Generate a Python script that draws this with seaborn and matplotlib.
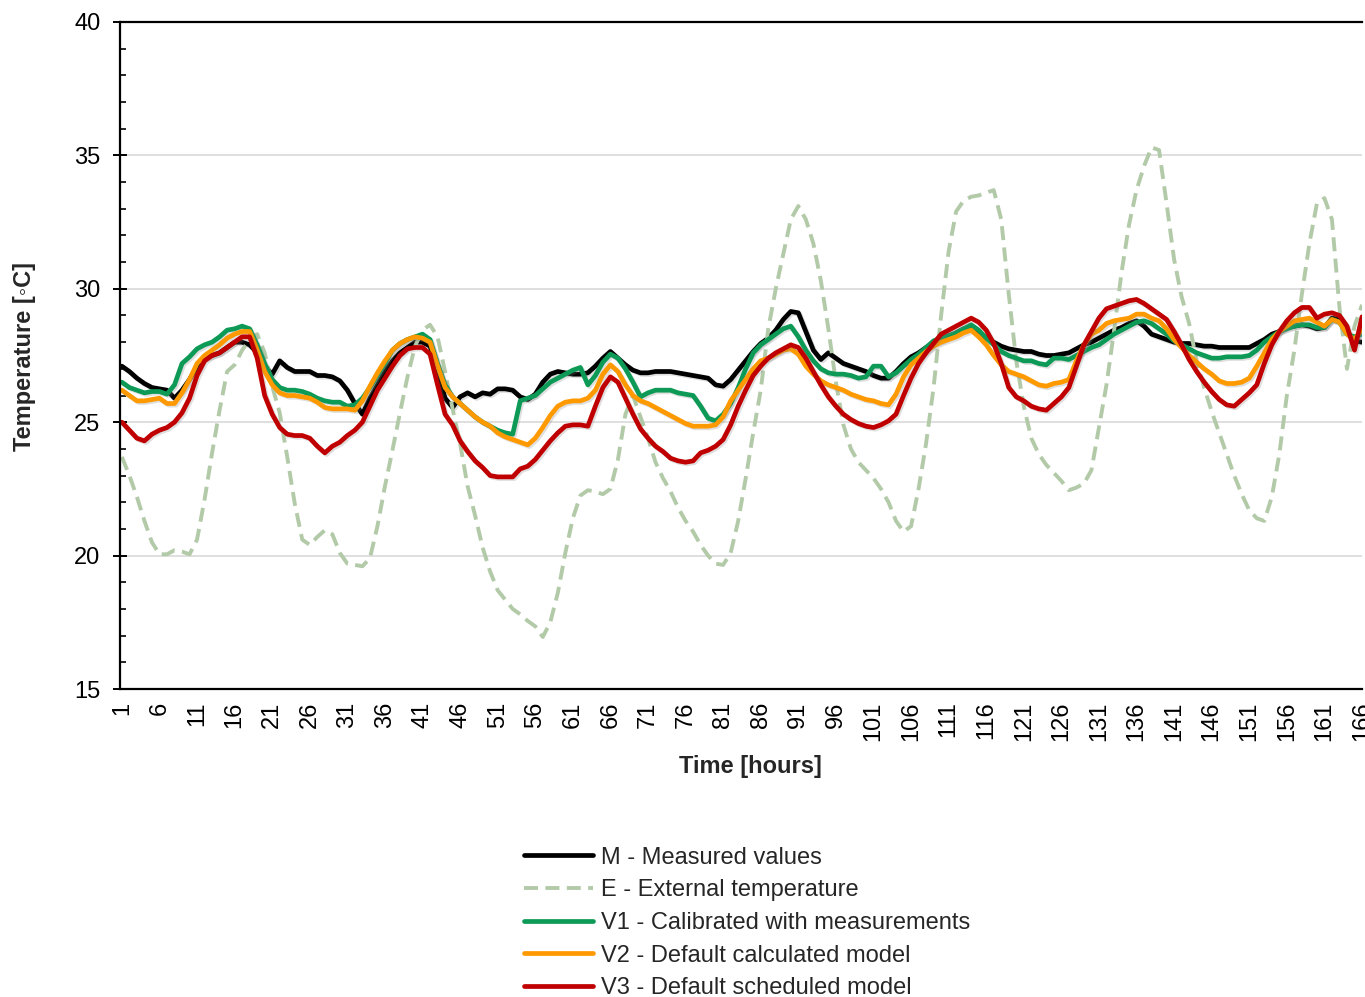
import numpy as np
import pandas as pd
import matplotlib
matplotlib.use("Agg")
import matplotlib.pyplot as plt
import matplotlib.patheffects as pe
from matplotlib.ticker import MultipleLocator
import seaborn as sns

hours = list(range(1, 167))

measured = [
    27.1, 26.9, 26.65, 26.45, 26.3, 26.25, 26.2, 25.9, 26.2, 26.6,
    27.1, 27.4, 27.5, 27.6, 27.8, 28.0, 28.0, 27.9, 27.6, 27.1,
    26.8, 27.3, 27.05, 26.9, 26.9, 26.9, 26.75, 26.75, 26.7, 26.55,
    26.2, 25.7, 25.3, 25.9, 26.4, 26.9, 27.3, 27.6, 27.8, 28.0,
    28.0, 27.85, 26.9, 25.9, 25.55, 25.95, 26.1, 25.95, 26.1, 26.05,
    26.25, 26.25, 26.2, 25.95, 25.85, 26.05, 26.5, 26.8, 26.9, 26.85,
    26.8, 26.8, 26.85, 27.1, 27.4, 27.65, 27.4, 27.15, 26.95, 26.85,
    26.85, 26.9, 26.9, 26.9, 26.85, 26.8, 26.75, 26.7, 26.65, 26.4,
    26.35, 26.6, 26.95, 27.3, 27.65, 27.95, 28.15, 28.45, 28.85, 29.15,
    29.1, 28.4, 27.7, 27.35, 27.6, 27.4, 27.2, 27.1, 27.0, 26.9,
    26.75, 26.65, 26.65, 26.9, 27.2, 27.45, 27.6, 27.8, 27.95, 28.05,
    28.2, 28.35, 28.5, 28.6, 28.35, 28.15, 28.0, 27.85, 27.75, 27.7,
    27.65, 27.65, 27.55, 27.5, 27.5, 27.55, 27.6, 27.75, 27.9, 28.0,
    28.15, 28.3, 28.45, 28.55, 28.7, 28.8, 28.6, 28.3, 28.2, 28.1,
    28.0, 27.95, 27.95, 27.9, 27.85, 27.85, 27.8, 27.8, 27.8, 27.8,
    27.8, 27.95, 28.1, 28.3, 28.4, 28.55, 28.6, 28.65, 28.6, 28.5,
    28.55, 28.9, 28.85, 28.4, 28.05, 28.0,
]

external = [
    23.7, 23.0, 22.2, 21.3, 20.5, 20.05, 20.05, 20.2, 20.15, 20.05,
    20.6, 22.1, 23.85, 25.45, 26.9, 27.15, 27.7, 28.1, 28.3, 27.6,
    26.35, 25.35, 23.7, 21.95, 20.6, 20.4, 20.7, 20.95, 20.8, 20.1,
    19.7, 19.65, 19.6, 19.9, 21.1, 22.6, 23.95, 25.35, 26.7, 27.85,
    28.45, 28.65, 28.2, 26.9, 25.5, 24.2, 22.6, 21.5, 20.3, 19.4,
    18.7, 18.35, 18.0, 17.8, 17.55, 17.35, 16.95, 17.5, 18.6, 20.1,
    21.4, 22.25, 22.45, 22.4, 22.3, 22.5, 23.6, 25.3, 26.0, 25.2,
    24.4, 23.5, 22.9, 22.4, 21.8, 21.3, 20.9, 20.4, 20.0, 19.7,
    19.65, 20.1, 21.3, 22.9, 24.6, 26.2, 28.5, 30.0, 31.3, 32.6,
    33.1, 32.6, 31.7, 30.3, 28.5, 26.5, 24.9, 24.0, 23.5, 23.2,
    22.9, 22.5, 22.0, 21.3, 20.9, 21.1, 22.5, 24.2, 26.3, 29.0,
    31.4, 32.9, 33.3, 33.45, 33.5, 33.6, 33.7, 32.6, 29.8, 27.3,
    25.6, 24.4, 23.8, 23.4, 23.1, 22.8, 22.45, 22.55, 22.7, 23.2,
    24.8, 26.4, 28.4, 30.6, 32.4, 33.7, 34.6, 35.3, 35.2, 33.2,
    31.1, 29.7, 28.7, 27.3, 26.3, 25.4, 24.6, 23.8, 23.0, 22.3,
    21.7, 21.4, 21.3, 22.2, 23.8, 26.0, 27.7, 29.8, 31.7, 33.2,
    33.4, 32.6, 29.3, 27.0, 28.6, 29.4,
]

v1_calibrated = [
    26.5, 26.3, 26.2, 26.1, 26.15, 26.15, 26.05, 26.4, 27.2, 27.45,
    27.75, 27.9, 28.0, 28.2, 28.45, 28.5, 28.6, 28.5, 27.9, 27.2,
    26.6, 26.3, 26.2, 26.2, 26.15, 26.05, 25.9, 25.8, 25.75, 25.75,
    25.6, 25.65, 25.9, 26.3, 26.75, 27.2, 27.7, 27.95, 28.1, 28.2,
    28.3, 28.1, 27.2, 26.4, 25.95, 25.7, 25.45, 25.2, 25.0, 24.85,
    24.7, 24.6, 24.55, 25.8, 25.9, 26.0, 26.25, 26.5, 26.65, 26.8,
    26.95, 27.05, 26.4, 26.75, 27.25, 27.55, 27.4, 27.0, 26.5, 25.95,
    26.1, 26.2, 26.2, 26.2, 26.1, 26.05, 26.0, 25.6, 25.15, 25.05,
    25.3, 25.7, 26.3, 27.0, 27.6, 27.9, 28.1, 28.3, 28.5, 28.6,
    28.2, 27.7, 27.3, 27.0, 26.85, 26.8, 26.8, 26.75, 26.65, 26.7,
    27.1, 27.1, 26.7, 26.85, 27.1, 27.35, 27.55, 27.8, 28.05, 28.15,
    28.25, 28.35, 28.5, 28.65, 28.45, 28.15, 27.9, 27.65, 27.5, 27.4,
    27.3, 27.3, 27.2, 27.15, 27.4, 27.4, 27.35, 27.5, 27.65, 27.8,
    27.9, 28.1, 28.3, 28.45, 28.6, 28.75, 28.8, 28.7, 28.5, 28.3,
    28.05, 27.9, 27.75, 27.6, 27.5, 27.4, 27.4, 27.45, 27.45, 27.45,
    27.5, 27.7, 28.0, 28.2, 28.4, 28.5, 28.6, 28.65, 28.65, 28.55,
    28.55, 28.85, 28.75, 28.3, 28.2, 28.3,
]

v2_calculated = [
    26.2, 26.0, 25.8, 25.8, 25.85, 25.9, 25.7, 25.7, 26.1, 26.6,
    27.2, 27.5, 27.7, 27.9, 28.15, 28.3, 28.4, 28.4, 27.7, 26.9,
    26.4, 26.1, 26.0, 26.0, 25.95, 25.9, 25.75, 25.55, 25.5, 25.5,
    25.5, 25.45, 25.8, 26.35, 26.85, 27.3, 27.7, 27.95, 28.1, 28.2,
    28.15, 28.0, 27.1, 26.3, 25.95, 25.7, 25.45, 25.2, 25.0, 24.85,
    24.6, 24.45, 24.35, 24.25, 24.15, 24.4, 24.8, 25.25, 25.6, 25.75,
    25.8, 25.8, 25.9, 26.2, 26.8, 27.15, 26.9, 26.4, 26.0, 25.8,
    25.7, 25.55, 25.4, 25.25, 25.1, 24.95, 24.85, 24.85, 24.85, 24.9,
    25.2, 25.8, 26.2, 26.6, 27.0, 27.3, 27.4, 27.55, 27.7, 27.75,
    27.55, 27.1, 26.8, 26.55, 26.4, 26.3, 26.2, 26.05, 25.95, 25.85,
    25.8, 25.7, 25.65, 26.05, 26.7, 27.15, 27.4, 27.65, 27.85, 28.0,
    28.1, 28.2, 28.35, 28.45, 28.2, 27.9, 27.5, 27.15, 26.9, 26.8,
    26.7, 26.55, 26.4, 26.35, 26.45, 26.5, 26.6, 27.3, 27.9, 28.3,
    28.45, 28.7, 28.8, 28.85, 28.9, 29.05, 29.05, 28.9, 28.8, 28.5,
    28.1, 27.8, 27.5, 27.25, 27.0, 26.8, 26.55, 26.45, 26.45, 26.5,
    26.65, 27.1, 27.6, 28.1, 28.4, 28.6, 28.8, 28.85, 28.9, 28.75,
    28.6, 28.85, 28.75, 28.3, 28.1, 28.5,
]

v3_scheduled = [
    25.0, 24.7, 24.4, 24.3, 24.55, 24.7, 24.8, 25.0, 25.35, 25.9,
    26.75, 27.3, 27.5, 27.6, 27.8, 28.0, 28.2, 28.2, 27.4, 26.0,
    25.3, 24.8, 24.55, 24.5, 24.5, 24.4, 24.1, 23.85, 24.1, 24.25,
    24.5, 24.7, 25.0, 25.6, 26.2, 26.65, 27.1, 27.5, 27.75, 27.8,
    27.8, 27.55, 26.4, 25.3, 24.9, 24.3, 23.9, 23.55, 23.3, 23.0,
    22.95, 22.95, 22.95, 23.25, 23.35, 23.6, 23.95, 24.3, 24.6, 24.85,
    24.9, 24.9, 24.85, 25.6, 26.3, 26.7, 26.5, 25.9, 25.3, 24.75,
    24.4, 24.1, 23.9, 23.65, 23.55, 23.5, 23.55, 23.85, 23.95, 24.1,
    24.35, 24.9, 25.6, 26.2, 26.75, 27.1, 27.4, 27.6, 27.75, 27.9,
    27.8, 27.4, 26.9, 26.4, 25.95, 25.6, 25.3, 25.1, 24.95, 24.85,
    24.8, 24.9, 25.05, 25.3, 26.0, 26.65, 27.2, 27.6, 27.95, 28.3,
    28.45, 28.6, 28.75, 28.9, 28.75, 28.45, 27.95, 27.2, 26.3, 25.95,
    25.8, 25.6, 25.5, 25.45, 25.7, 25.95, 26.3, 27.1, 27.9, 28.4,
    28.9, 29.25, 29.35, 29.45, 29.55, 29.6, 29.45, 29.25, 29.05, 28.85,
    28.4, 27.9, 27.35, 26.9, 26.5, 26.15, 25.85, 25.65, 25.6, 25.85,
    26.1, 26.4, 27.2, 27.9, 28.4, 28.8, 29.1, 29.3, 29.3, 28.9,
    29.05, 29.1, 29.0, 28.6, 27.7, 28.95,
]

series_labels = [
    "M - Measured values",
    "E - External temperature",
    "V1 - Calibrated with measurements",
    "V2 - Default calculated model",
    "V3 - Default scheduled model",
]
y_ticks = [15, 20, 25, 30, 35, 40]
x_ticks = list(range(1, 167, 5))

sns.set_theme(style="white")
plt.rcParams["font.family"] = ["Liberation Sans", "DejaVu Sans"]

fig = plt.figure(figsize=(13.65, 9.97), dpi=100)
W, H = 1365, 997
ax = fig.add_axes([120 / W, 1 - 689 / H, (1362 - 120) / W, (689 - 22) / H])

colors = ["#000000", "#b3caa9", "#0c9a56", "#ff9900", "#c00000"]
data_list = [measured, external, v1_calibrated, v2_calculated, v3_scheduled]

shadow = [pe.SimpleLineShadow(offset=(1.2, -1.2), shadow_color="#808080", alpha=0.25), pe.Normal()]

for vals, lab, col in zip(data_list, series_labels, colors):
    df = pd.DataFrame({"hour": hours, "temp": vals})
    if lab.startswith("E"):
        sns.lineplot(data=df, x="hour", y="temp", ax=ax, color=col, lw=2.8,
                     label=lab, dashes=False, linestyle=(0, (3.6, 1.9)))
    else:
        sns.lineplot(data=df, x="hour", y="temp", ax=ax, color=col, lw=3.4,
                     label=lab, solid_joinstyle="round", solid_capstyle="round",
                     path_effects=shadow)

ax.set_xlim(0.75, 166)
ax.set_ylim(15, 40)
ax.set_yticks(y_ticks)
ax.yaxis.set_minor_locator(MultipleLocator(1))
ax.set_xticks(x_ticks)
ax.set_xticklabels([str(t) for t in x_ticks], rotation=90)

ax.grid(False)
ax.yaxis.grid(True, which="major", color="#d9d9d9", lw=1.2)
ax.set_axisbelow(True)

for s in ["left", "bottom", "top"]:
    ax.spines[s].set_visible(True)
    ax.spines[s].set_color("black")
    ax.spines[s].set_linewidth(1.6)
ax.spines["right"].set_visible(False)

ax.tick_params(axis="y", which="major", direction="inout", length=10, width=1.4,
               labelsize=17, pad=9, colors="black", left=True)
ax.tick_params(axis="y", which="minor", direction="in", length=4.5, width=1.2,
               left=True, colors="black")
ax.tick_params(axis="x", which="both", length=0, labelsize=17, pad=9, colors="black")

ax.set_xlabel("Time [hours]", fontsize=17, fontweight="bold")
ax.xaxis.set_label_coords((750 - 120) / 1242, -(766 - 689) / 667)
ax.xaxis.label.set_va("center")
ax.set_ylabel("Temperature [\u25e6C]", fontsize=17, fontweight="bold")
ax.yaxis.set_label_coords((25 - 120) / 1242, 1 - (356 - 22) / 667)
ax.yaxis.label.set_va("center")

ax.get_legend().remove()
handles, labels = ax.get_legend_handles_labels()
leg = fig.legend(handles, labels, loc="center", bbox_to_anchor=(747 / W, 1 - 923 / H),
                 frameon=False, fontsize=17, handlelength=2.95, handletextpad=0.33,
                 labelspacing=0.45, borderpad=0)
for line in leg.get_lines():
    line.set_path_effects([])

fig.savefig("out.png", dpi=100)
